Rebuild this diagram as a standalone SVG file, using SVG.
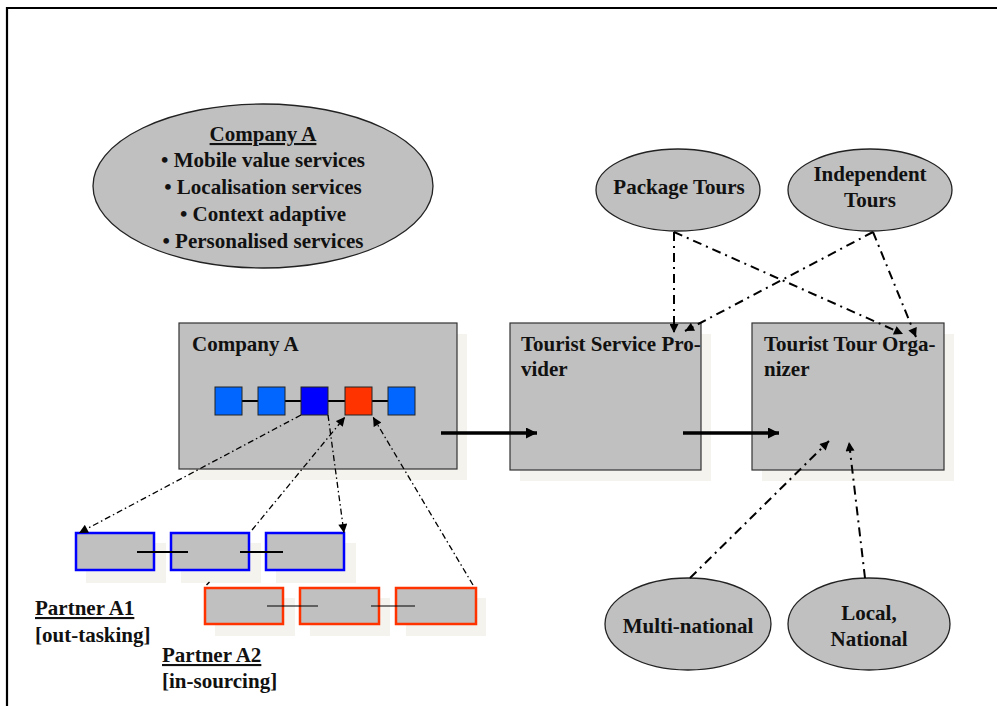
<svg xmlns="http://www.w3.org/2000/svg" width="997" height="706" viewBox="0 0 997 706" font-family="'Liberation Serif', 'Times New Roman', serif">
  <defs>
    <style>
      .lbl { font-family: "Liberation Serif", "Times New Roman", serif; font-weight: bold; font-size: 21px; fill: #111; }
      .mid { text-anchor: middle; }
      .ul { text-decoration: underline; }
      .node { fill: #c0c0c0; stroke: #333; stroke-width: 1.2; }
      .shadow { fill: #f4f3ee; }
      .oval { fill: #c0c0c0; stroke: #222; stroke-width: 1.3; }
      .sq { stroke: #222; stroke-width: 1; }
      .blue { fill: #c0c0c0; stroke: #0000ff; stroke-width: 2.5; }
      .red { fill: #c0c0c0; stroke: #ff3300; stroke-width: 2.5; }
      .flow { stroke: #000; stroke-width: 3.5; fill: none; }
      .dd { stroke: #000; stroke-width: 2; fill: none; stroke-dasharray: 9 5 2 5; }
      .dds { stroke: #000; stroke-width: 1.3; fill: none; stroke-dasharray: 6 3 1.5 3; }
    </style>
    <marker id="head" viewBox="0 0 10 10" refX="10" refY="5" markerWidth="12" markerHeight="11" markerUnits="userSpaceOnUse" orient="auto">
      <path d="M0,0 L10,5 L0,10 z" fill="#000"/>
    </marker>
    <marker id="tip" viewBox="0 0 10 10" refX="10" refY="5" markerWidth="10" markerHeight="9" markerUnits="userSpaceOnUse" orient="auto">
      <path d="M0,0 L10,5 L0,10 z" fill="#000"/>
    </marker>
  </defs>

  <rect width="997" height="706" fill="#fff"/>
  <!-- page frame (open at right and bottom) -->
  <path d="M7,706 V8 H997" fill="none" stroke="#000" stroke-width="2.2"/>

  <!-- Company A oval with service list -->
  <g id="company-a-oval">
    <ellipse class="oval" cx="263" cy="186" rx="170" ry="82"/>
    <text class="lbl mid ul" x="263" y="141">Company A</text>
    <text class="lbl mid" x="263" y="167">• Mobile value services</text>
    <text class="lbl mid" x="263" y="194">• Localisation services</text>
    <text class="lbl mid" x="263" y="221">• Context adaptive</text>
    <text class="lbl mid" x="263" y="248">• Personalised services</text>
  </g>

  <g id="package-tours">
    <ellipse class="oval" cx="678" cy="190" rx="82" ry="41"/>
    <text class="lbl mid" x="679" y="194">Package Tours</text>
  </g>

  <g id="independent-tours">
    <ellipse class="oval" cx="870" cy="190" rx="82" ry="41"/>
    <text class="lbl mid" x="870" y="181">Independent</text>
    <text class="lbl mid" x="870" y="207">Tours</text>
  </g>

  <g id="company-a">
    <rect class="shadow" x="189" y="334" width="278" height="146"/>
    <rect class="node" x="179" y="323" width="278" height="146"/>
    <text class="lbl" x="192" y="351">Company A</text>
    <line x1="228" y1="401" x2="401" y2="401" stroke="#000" stroke-width="2"/>
    <rect class="sq" x="215" y="387" width="27" height="28" fill="#0066ff"/>
    <rect class="sq" x="258" y="387" width="27" height="28" fill="#0066ff"/>
    <rect class="sq" x="301" y="387" width="27" height="28" fill="#0000ff"/>
    <rect class="sq" x="345" y="387" width="27" height="28" fill="#ff3300"/>
    <rect class="sq" x="388" y="387" width="27" height="28" fill="#0066ff"/>
  </g>

  <g id="tourist-service-provider">
    <rect class="shadow" x="520" y="334" width="191" height="147"/>
    <rect class="node" x="510" y="323" width="191" height="147"/>
    <text class="lbl" x="521" y="351">Tourist Service Pro-</text>
    <text class="lbl" x="521" y="376">vider</text>
  </g>

  <g id="tourist-tour-organizer">
    <rect class="shadow" x="762" y="334" width="192" height="147"/>
    <rect class="node" x="752" y="323" width="192" height="147"/>
    <text class="lbl" x="764" y="351">Tourist Tour Orga-</text>
    <text class="lbl" x="764" y="376">nizer</text>
  </g>

  <g id="partner-a1">
    <rect class="shadow" x="86" y="543" width="80" height="40"/>
    <rect class="shadow" x="181" y="543" width="80" height="40"/>
    <rect class="shadow" x="276" y="543" width="80" height="40"/>
    <rect class="blue" x="76" y="533" width="78" height="37"/>
    <rect class="blue" x="171" y="533" width="78" height="37"/>
    <rect class="blue" x="266" y="533" width="78" height="37"/>
    <line x1="137" y1="552" x2="188" y2="552" stroke="#000" stroke-width="2"/>
    <line x1="240" y1="552" x2="283" y2="552" stroke="#000" stroke-width="2"/>
    <text class="lbl ul" x="35" y="615">Partner A1</text>
    <text class="lbl" x="35" y="642">[out-tasking]</text>
  </g>

  <g id="partner-a2">
    <rect class="shadow" x="215" y="598" width="80" height="38"/>
    <rect class="shadow" x="310" y="598" width="80" height="38"/>
    <rect class="shadow" x="406" y="598" width="80" height="38"/>
    <rect class="red" x="205" y="588" width="78" height="36"/>
    <rect class="red" x="300" y="588" width="79" height="36"/>
    <rect class="red" x="396" y="588" width="80" height="36"/>
    <line x1="267" y1="606" x2="318" y2="606" stroke="#000" stroke-width="1.2"/>
    <line x1="371" y1="606" x2="415" y2="606" stroke="#000" stroke-width="1.2"/>
    <text class="lbl ul" x="162" y="662">Partner A2</text>
    <text class="lbl" x="162" y="688">[in-sourcing]</text>
  </g>

  <g id="multi-national">
    <ellipse class="oval" cx="688" cy="624" rx="83" ry="46"/>
    <text class="lbl mid" x="688" y="633">Multi-national</text>
  </g>

  <g id="local-national">
    <ellipse class="oval" cx="869" cy="624" rx="81" ry="46"/>
    <text class="lbl mid" x="869" y="620">Local,</text>
    <text class="lbl mid" x="869" y="646">National</text>
  </g>

  <g id="connectors">
    <!-- value chain flow -->
    <line class="flow" x1="441" y1="433" x2="537" y2="433" marker-end="url(#head)"/>
    <line class="flow" x1="683" y1="433" x2="779" y2="433" marker-end="url(#head)"/>
    <!-- tour types to actors -->
    <line class="dd" x1="674" y1="232" x2="674" y2="333" marker-end="url(#tip)"/>
    <line class="dd" x1="674" y1="232" x2="903" y2="334" marker-end="url(#tip)"/>
    <line class="dd" x1="873" y1="232" x2="685" y2="331" marker-end="url(#tip)"/>
    <line class="dd" x1="873" y1="232" x2="916" y2="337" marker-end="url(#tip)"/>
    <!-- market scope to organizer -->
    <line class="dd" x1="690" y1="578" x2="829" y2="441" marker-end="url(#tip)"/>
    <line class="dd" x1="865" y1="578" x2="849" y2="442" marker-end="url(#tip)"/>
    <!-- sourcing links -->
    <line class="dds" x1="301" y1="415" x2="79" y2="533" marker-end="url(#tip)"/>
    <line class="dds" x1="252" y1="530" x2="345" y2="417" marker-end="url(#tip)"/>
    <line class="dds" x1="328" y1="415" x2="344" y2="533" marker-end="url(#tip)"/>
    <line class="dds" x1="473" y1="585" x2="373" y2="417" marker-end="url(#tip)"/>
    <!-- short stub at the first in-sourcing box -->
    <line x1="206.5" y1="585" x2="209.5" y2="582" stroke="#000" stroke-width="1.5"/>
  </g>
</svg>
